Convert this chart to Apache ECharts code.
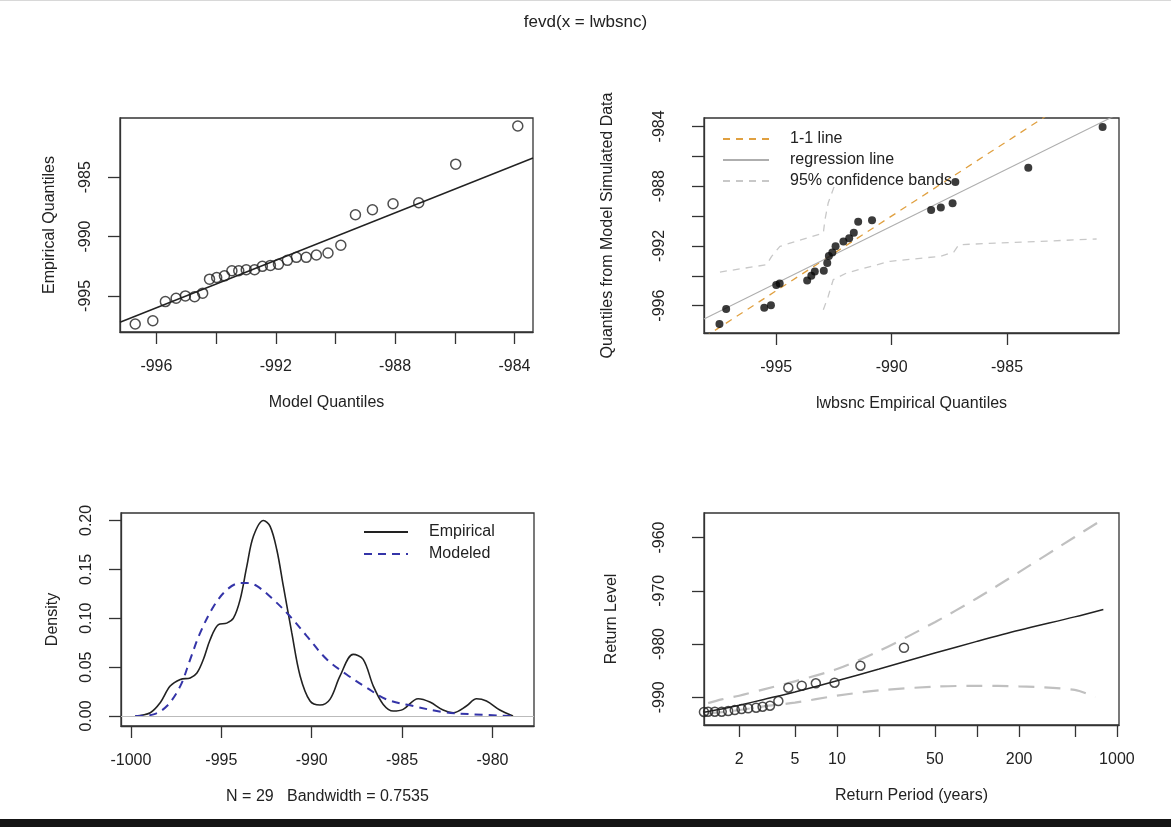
<!DOCTYPE html>
<html>
<head>
<meta charset="utf-8">
<script src="https://cdn.jsdelivr.net/npm/echarts@6/dist/echarts.min.js"></script>
<style>
html,body{margin:0;padding:0;background:#fff;}
#chart{width:1171px;height:827px;}
</style>
</head>
<body>
<div id="chart"></div>
<script>
// ---------- Panel 1: QQ plot (model vs empirical quantiles) ----------
var p1ModelQ = [-996.71, -996.12, -995.70, -995.34, -995.03, -994.72, -994.45, -994.22, -993.98, -993.72, -993.47, -993.24, -992.99, -992.71, -992.45, -992.18, -991.91, -991.61, -991.31, -990.98, -990.64, -990.25, -989.82, -989.33, -988.76, -988.07, -987.21, -985.97, -983.89];
var p1EmpQ   = [-997.37, -997.09, -995.48, -995.20, -995.00, -995.06, -994.77, -993.59, -993.45, -993.31, -992.88, -992.88, -992.80, -992.80, -992.51, -992.43, -992.34, -992.00, -991.75, -991.75, -991.55, -991.38, -990.73, -988.16, -987.74, -987.23, -987.15, -983.90, -980.68];
var p1LineX = [-997.22, -983.38];
var p1LineY = [-997.22, -983.38];
var p1XTicks = [-996, -994, -992, -990, -988, -986, -984];
var p1XLabels = [-996, -992, -988, -984];
var p1YTicks = [-995, -990, -985];

// ---------- Panel 2: QQ plot of simulated data ----------
var p2EmpX = [-997.46, -997.17, -995.52, -995.23, -995.00, -994.85, -993.66, -993.48, -993.33, -992.94, -992.79, -992.72, -992.57, -992.43, -992.09, -991.84, -991.64, -991.45, -990.85, -988.29, -987.87, -987.36, -987.24, -984.08, -980.86];
var p2SimY = [-997.22, -996.22, -996.14, -995.98, -994.62, -994.52, -994.31, -994.00, -993.71, -993.67, -993.15, -992.67, -992.44, -992.02, -991.71, -991.49, -991.12, -990.38, -990.29, -989.60, -989.43, -989.15, -987.73, -986.77, -984.05];
var p2OneX = [-998.13, -980.15];
var p2OneY = [-998.13, -980.15];
var p2RegX = [-998.13, -980.15];
var p2RegY = [-996.90, -983.15];
var p2UpX = [-997.44, -995.42, -995.20, -994.84, -992.96, -992.89, -992.75, -992.46];
var p2UpY = [-993.75, -993.26, -992.70, -992.03, -991.14, -990.25, -989.13, -987.90];
var p2LoX = [-992.96, -992.75, -992.53, -991.95, -990.07, -987.90, -987.31, -987.09, -981.12];
var p2LoY = [-996.27, -995.38, -994.26, -993.81, -993.03, -992.70, -992.41, -991.92, -991.54];
var p2XTicks = [-995, -990, -985];
var p2YTicks = [-996, -994, -992, -990, -988, -986, -984];
var p2YLabels = [-996, -992, -988, -984];

// ---------- Panel 3: density ----------
var p3EmpX = [-999.76, -998.93, -998.38, -997.83, -997.27, -996.72, -996.35, -995.99, -995.62, -995.16, -994.70, -994.33, -993.96, -993.59, -993.22, -992.67, -992.30, -991.93, -991.57, -991.10, -990.64, -990.09, -989.54, -988.99, -988.43, -987.70, -987.15, -986.59, -986.04, -985.49, -984.94, -984.11, -983.46, -982.73, -982.17, -981.44, -980.88, -980.33, -979.59, -978.86];
var p3EmpY = [0, 0.0034, 0.0136, 0.0306, 0.0374, 0.0390, 0.0440, 0.0580, 0.0780, 0.0935, 0.0950, 0.1000, 0.1190, 0.1530, 0.1840, 0.2000, 0.1940, 0.1700, 0.1330, 0.0850, 0.0410, 0.0153, 0.0112, 0.0170, 0.0410, 0.0630, 0.0580, 0.0306, 0.0119, 0.0051, 0.0068, 0.0177, 0.0143, 0.0061, 0.0034, 0.0102, 0.0177, 0.0153, 0.0061, 0];
var p3ModX = [-999.76, -998.75, -998.01, -997.27, -996.72, -996.17, -995.43, -994.70, -993.96, -993.59, -993.04, -992.12, -991.20, -990.28, -989.17, -988.07, -986.96, -985.86, -984.38, -982.73, -981.07, -978.86];
var p3ModY = [0, 0.0017, 0.0102, 0.0306, 0.0580, 0.0850, 0.1120, 0.1290, 0.1360, 0.1360, 0.1330, 0.1190, 0.1020, 0.0820, 0.0580, 0.0425, 0.0290, 0.0170, 0.0102, 0.0041, 0.0017, 0];
var p3XTicks = [-1000, -995, -990, -985, -980];
var p3YTicks = [0, 0.05, 0.10, 0.15, 0.20];

// ---------- Panel 4: return level plot ----------
var p4PtsT = [30.1, 14.7, 9.6, 7.06, 5.6, 4.49, 3.81, 3.32, 2.94, 2.64, 2.32, 2.08, 1.86, 1.67, 1.50, 1.34, 1.20, 1.12];
var p4PtsY = [-980.70, -984.07, -987.26, -987.37, -987.82, -988.20, -990.70, -991.57, -991.76, -991.95, -992.07, -992.20, -992.38, -992.57, -992.70, -992.70, -992.70, -992.75];
var p4CurveT = [1.12, 1.5, 2, 3, 5, 10, 20, 50, 100, 200, 500, 800];
var p4Level  = [-992.8, -992.2, -991.5, -990.4, -989.0, -986.9, -984.7, -981.7, -979.5, -977.4, -974.9, -973.5];
var p4UpT    = [1.2, 1.5, 2, 3, 5, 10, 20, 50, 100, 200, 500, 750];
var p4Upper  = [-991.1, -990.4, -989.7, -988.5, -987.0, -984.7, -981.3, -975.9, -971.4, -966.5, -959.9, -957.0];
var p4LoT    = [1.2, 1.5, 2, 3, 5, 10, 20, 50, 100, 200, 500, 700];
var p4Lower  = [-993.0, -992.8, -992.4, -991.7, -991.0, -989.7, -988.7, -988.0, -987.85, -987.95, -988.6, -990.0];
var p4XTicks = [2, 5, 10, 20, 50, 100, 200, 500, 1000];
var p4XLabels = [2, 5, 10, 50, 200, 1000];
var p4YTicks = [-990, -980, -970, -960];

// ---------- helpers ----------
var FONT = "'Liberation Sans', Arial, Helvetica, sans-serif";
var INK = '#222';
function pairs(xs, ys) { return xs.map(function (x, i) { return [x, ys[i]]; }); }
function lg(arr) { return arr.map(function (v) { return Math.log10(v); }); }

function axis(opt) {
  return {
    type: 'value',
    gridIndex: opt.grid,
    min: opt.min, max: opt.max,
    scale: true,
    name: opt.name || '',
    nameLocation: 'middle',
    nameGap: opt.nameGap,
    nameRotate: opt.nameRotate || 0,
    nameTextStyle: { color: INK, fontSize: 16, fontFamily: FONT },
    axisLine: { show: true, onZero: false, lineStyle: { color: '#333', width: 1.3 } },
    splitLine: { show: false },
    axisTick: { show: true, inside: false, length: 12, customValues: opt.ticks, lineStyle: { color: '#333', width: 1.3 } },
    axisLabel: {
      show: true, customValues: opt.labels || opt.ticks, color: INK, fontSize: 16, fontFamily: FONT,
      margin: opt.margin, rotate: opt.rotate || 0, formatter: opt.fmt || function (v) { return String(v); }
    }
  };
}

var grids = [
  { left: 120, top: 118, width: 413, height: 214 },
  { left: 704, top: 118, width: 415, height: 215 },
  { left: 121, top: 513, width: 413, height: 213 },
  { left: 704, top: 513, width: 415, height: 212 }
].map(function (g) {
  return Object.assign({ show: true, borderColor: '#333', borderWidth: 1.3, backgroundColor: 'transparent', containLabel: false }, g);
});

var xAxes = [
  axis({ grid: 0, min: -997.22, max: -983.38, ticks: p1XTicks, labels: p1XLabels, margin: 27, name: 'Model Quantiles', nameGap: 63 }),
  axis({ grid: 1, min: -998.13, max: -980.15, ticks: p2XTicks, margin: 27, name: 'lwbsnc Empirical Quantiles', nameGap: 63 }),
  axis({ grid: 2, min: -1000.55, max: -977.7, ticks: p3XTicks, margin: 27, name: 'N = 29   Bandwidth = 0.7535', nameGap: 63 }),
  axis({ grid: 3, min: 0.0496, max: 3.015, ticks: lg(p4XTicks), labels: lg(p4XLabels), margin: 27, name: 'Return Period (years)', nameGap: 63,
         fmt: function (v) { return String(Math.round(Math.pow(10, v))); } })
];
var yAxes = [
  axis({ grid: 0, min: -998.04, max: -980.01, ticks: p1YTicks, margin: 26, rotate: 90, name: 'Empirical Quantiles', nameRotate: 90, nameGap: 62 }),
  axis({ grid: 1, min: -997.83, max: -983.44, ticks: p2YTicks, labels: p2YLabels, margin: 36, rotate: 90, name: 'Quantiles from Model Simulated Data', nameRotate: 90, nameGap: 88 }),
  axis({ grid: 2, min: -0.0102, max: 0.2076, ticks: p3YTicks, margin: 26, rotate: 90, name: 'Density', nameRotate: 90, nameGap: 60,
         fmt: function (v) { return v.toFixed(2); } }),
  axis({ grid: 3, min: -995.2, max: -955.4, ticks: p4YTicks, margin: 36, rotate: 90, name: 'Return Level', nameRotate: 90, nameGap: 84 })
];

function lineSeries(name, xi, data, color, width, type, smooth, z) {
  return {
    name: name, type: 'line', xAxisIndex: xi, yAxisIndex: xi, data: data,
    showSymbol: false, symbol: 'none', smooth: smooth || false, clip: true, silent: true,
    lineStyle: { color: color, width: width, type: type || 'solid' },
    itemStyle: { color: color },
    z: z || 2
  };
}

var series = [
  // panel 1
  lineSeries('p1line', 0, pairs(p1LineX, p1LineY), '#222', 1.4, 'solid'),
  { name: 'p1pts', type: 'scatter', xAxisIndex: 0, yAxisIndex: 0, data: pairs(p1ModelQ, p1EmpQ),
    symbol: 'circle', symbolSize: 10, silent: true,
    itemStyle: { color: 'rgba(0,0,0,0)', borderColor: '#222', borderWidth: 1.5 }, z: 3 },
  // panel 2
  lineSeries('1-1 line', 1, pairs(p2OneX, p2OneY), '#E0A040', 1.3, [7, 6]),
  lineSeries('regression line', 1, pairs(p2RegX, p2RegY), '#AEAEAE', 1.1, 'solid'),
  lineSeries('95% confidence bands', 1, pairs(p2UpX, p2UpY), '#C8C8C8', 1.3, [7, 6]),
  lineSeries('95% confidence bands', 1, pairs(p2LoX, p2LoY), '#C8C8C8', 1.3, [7, 6]),
  { name: 'p2pts', type: 'scatter', xAxisIndex: 1, yAxisIndex: 1, data: pairs(p2EmpX, p2SimY),
    symbol: 'circle', symbolSize: 8, silent: true, itemStyle: { color: '#0a0a0a' }, z: 6 },
  // panel 3
  Object.assign(lineSeries('Empirical', 2, pairs(p3EmpX, p3EmpY), '#222', 1.6, 'solid', 0.35), {
    markLine: { silent: true, symbol: 'none', label: { show: false },
      lineStyle: { color: '#BBBBBB', width: 1.2, type: 'solid' }, data: [{ yAxis: 0 }] }
  }),
  lineSeries('Modeled', 2, pairs(p3ModX, p3ModY), '#3434A8', 2, [8, 6], 0.35),
  // panel 4
  lineSeries('p4level', 3, pairs(lg(p4CurveT), p4Level), '#222', 1.5, 'solid', 0.3),
  lineSeries('p4upper', 3, pairs(lg(p4UpT), p4Upper), '#C0C0C0', 2.2, [16, 10], 0.3),
  lineSeries('p4lower', 3, pairs(lg(p4LoT), p4Lower), '#C0C0C0', 2.2, [16, 10], 0.3),
  { name: 'p4pts', type: 'scatter', xAxisIndex: 3, yAxisIndex: 3, data: pairs(lg(p4PtsT), p4PtsY),
    symbol: 'circle', symbolSize: 9, silent: true, clip: true,
    itemStyle: { color: 'rgba(0,0,0,0)', borderColor: '#222', borderWidth: 1.5 }, z: 3 }
];

var option = {
  animation: false,
  backgroundColor: '#fff',
  title: { text: 'fevd(x = lwbsnc)', left: 'center', top: 9,
    textStyle: { fontFamily: FONT, fontSize: 17, fontWeight: 'normal', color: INK } },
  legend: [
    { data: ['1-1 line', 'regression line', '95% confidence bands'], orient: 'vertical', left: 722, top: 131,
      itemWidth: 46, itemHeight: 14, itemGap: 5, padding: 0, selectedMode: false,
      itemStyle: { opacity: 0 },
      textStyle: { fontFamily: FONT, fontSize: 16, color: INK, padding: [0, 0, 0, 16] } },
    { data: ['Empirical', 'Modeled'], orient: 'vertical', left: 363, top: 524,
      itemWidth: 44, itemHeight: 14, itemGap: 6, padding: 0, selectedMode: false,
      itemStyle: { opacity: 0 },
      textStyle: { fontFamily: FONT, fontSize: 16, color: INK, padding: [0, 0, 0, 16] } }
  ],
  grid: grids,
  xAxis: xAxes,
  yAxis: yAxes,
  series: series,
  graphic: [
    { type: 'rect', left: 0, top: 0, shape: { width: 1171, height: 1 }, style: { fill: '#D8D8D8' }, silent: true },
    { type: 'rect', left: 0, top: 819, shape: { width: 1171, height: 8 }, style: { fill: '#151515' }, silent: true }
  ]
};

var chart = echarts.init(document.getElementById('chart'), null, { renderer: 'canvas' });
chart.setOption(option);
</script>
</body>
</html>
